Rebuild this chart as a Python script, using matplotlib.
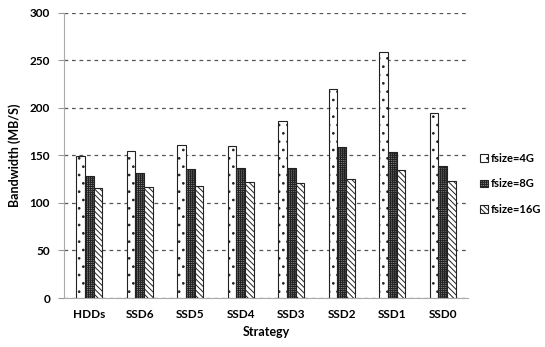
import matplotlib
matplotlib.use("Agg")
import matplotlib.pyplot as plt
import numpy as np

plt.rcParams['font.family'] = ['Lato', 'DejaVu Sans']
plt.rcParams['font.weight'] = 'bold'
plt.rcParams['hatch.linewidth'] = 0.7

strategies = ['HDDs', 'SSD6', 'SSD5', 'SSD4', 'SSD3', 'SSD2', 'SSD1', 'SSD0']
fsize_4g = [149, 155, 161, 160, 186, 220, 259, 195]
fsize_8g = [128, 131, 136, 137, 137, 159, 153, 139]
fsize_16g = [116, 117, 118, 122, 121, 125, 135, 123]

series = [
    ('fsize=4G', fsize_4g, '..', 'white'),
    ('fsize=8G', fsize_8g, '++++++++', '#888888'),
    ('fsize=16G', fsize_16g, '\\\\\\\\\\\\', 'white'),
]

fig = plt.figure(figsize=(5.45, 3.47), dpi=100)
ax = fig.add_axes([0.1174, 0.1412, 0.7413, 0.8222])

x = np.arange(len(strategies))
width = 0.17
for i, (label, vals, hatch, fill) in enumerate(series):
    ax.bar(x + (i - 1) * width, vals, width, label=label, color=fill,
           edgecolor='#222222', hatch=hatch, linewidth=0.8, zorder=3)

ax.set_ylim(0, 300)
ax.set_xlim(-0.5, len(strategies) - 0.5)
ax.set_yticks(range(0, 301, 50))
ax.set_xticks(x)
ax.set_xticklabels(strategies)
ax.yaxis.grid(True, linestyle=(0, (3, 3)), color='#555555', linewidth=0.9, zorder=0)
ax.tick_params(axis='y', length=4, color='#999999', labelsize=8.5, pad=6)
ax.tick_params(axis='x', length=0, labelsize=8.5, pad=8)

for side in ['top', 'right']:
    ax.spines[side].set_visible(False)
ax.spines['left'].set_color('#aaaaaa')
ax.spines['bottom'].set_color('#aaaaaa')

ax.set_xlabel('Strategy', fontsize=9, fontweight='bold', labelpad=4)
ax.set_ylabel('Bandwidth (MB/S)', fontsize=9, fontweight='bold', labelpad=6)

ax.legend(loc='center left', bbox_to_anchor=(1.01, 0.40), frameon=False,
          fontsize=8, handlelength=0.7, handleheight=0.7, handletextpad=0.3,
          labelspacing=1.3, borderpad=0.2)

fig.savefig('out.png', dpi=100)
